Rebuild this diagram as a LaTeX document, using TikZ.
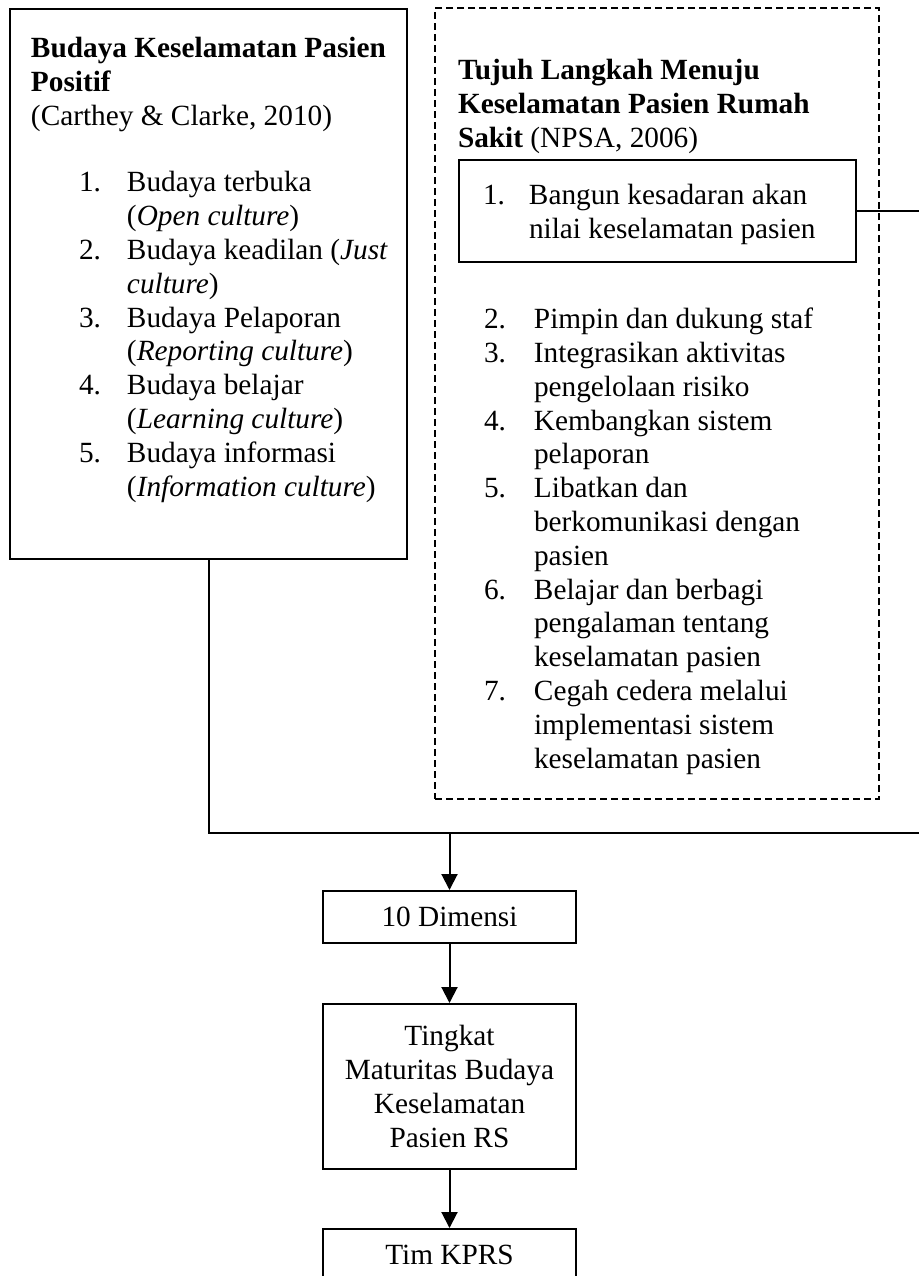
\documentclass[tikz,border=0pt]{standalone}
\usepackage{fontspec}
\setmainfont{Liberation Serif}
\usetikzlibrary{fit,arrows.meta}
\newcommand{\lnum}[2][24pt]{\makebox[#1][l]{#2}}
\newcommand{\lind}[1][24pt]{\hspace*{#1}}

\begin{document}
\begin{tikzpicture}[x=0.5pt, y=-0.5pt, line width=1pt,
		every node/.style={font=\fontsize{14.65}{16.9}\selectfont, inner sep=0pt},
		box/.style={draw},
		teks/.style={anchor=base west, align=left},
		>={Triangle[length=8pt,width=8pt]}]
		\useasboundingbox (0,0) rectangle (919,1276);
		% kotak kerangka
		\node (kiri) [box, fit={(10,9) (407,559)}] {};
		\node (kanan) [box, line width=0.75pt, dash pattern=on 3.5pt off 2pt, fit={(435,8) (879,799)}] {};
		\node (langkah1) [box, fit={(459,160) (856,262)}] {};
		% isi kotak kiri (jangkar pada baris terakhir)
		\node (judul-kiri) [teks] at (30,125) {\textbf{Budaya Keselamatan Pasien}\\ \textbf{Positif}\\ (Carthey \& Clarke, 2010)};
		\node (daftar-kiri) [teks] at (78,496) {
			\lnum{1.}Budaya terbuka\\ \lind(\textit{Open culture})\\
			\lnum{2.}Budaya keadilan (\textit{Just}\\ \lind\textit{culture})\\
			\lnum{3.}Budaya Pelaporan\\ \lind(\textit{Reporting culture})\\
			\lnum{4.}Budaya belajar\\ \lind(\textit{Learning culture})\\
			\lnum{5.}Budaya informasi\\ \lind(\textit{Information culture})};
		% isi kotak kanan
		\node (judul-kanan) [teks] at (457,147) {\textbf{Tujuh Langkah Menuju}\\ \textbf{Keselamatan Pasien Rumah}\\ \textbf{Sakit} (NPSA, 2006)};
		\node (teks-langkah1) [teks] at (482,238) {\lnum[23pt]{1.}Bangun kesadaran akan\\ \lind[23pt]nilai keselamatan pasien};
		\node (daftar-kanan) [teks] at (483,768) {
			\lnum[25pt]{2.}Pimpin dan dukung staf\\
			\lnum[25pt]{3.}Integrasikan aktivitas\\ \lind[25pt]pengelolaan risiko\\
			\lnum[25pt]{4.}Kembangkan sistem\\ \lind[25pt]pelaporan\\
			\lnum[25pt]{5.}Libatkan dan\\ \lind[25pt]berkomunikasi dengan\\ \lind[25pt]pasien\\
			\lnum[25pt]{6.}Belajar dan berbagi\\ \lind[25pt]pengalaman tentang\\ \lind[25pt]keselamatan pasien\\
			\lnum[25pt]{7.}Cegah cedera melalui\\ \lind[25pt]implementasi sistem\\ \lind[25pt]keselamatan pasien};
		% alur ke bawah
		\node (dimensi) [box, minimum width=126.5pt, minimum height=26pt] at (449.5,917) {10 Dimensi};
		\node (tingkat) [box, minimum width=126.5pt, minimum height=82.5pt, align=center] at (449.5,1086.5) {Tingkat\\ Maturitas Budaya\\ Keselamatan\\ Pasien RS};
		\node (tim) [box, minimum width=126.5pt, minimum height=26pt] at (449.5,1255) {Tim KPRS};
		\coordinate (sudut) at (925,833);
		\draw (kiri.south) |- (sudut) |- (langkah1.east);
		\draw[->] (dimensi.north |- sudut) -- (dimensi);
		\draw[->] (dimensi) -- (tingkat);
		\draw[->] (tingkat) -- (tim);
	\end{tikzpicture}
\end{document}
